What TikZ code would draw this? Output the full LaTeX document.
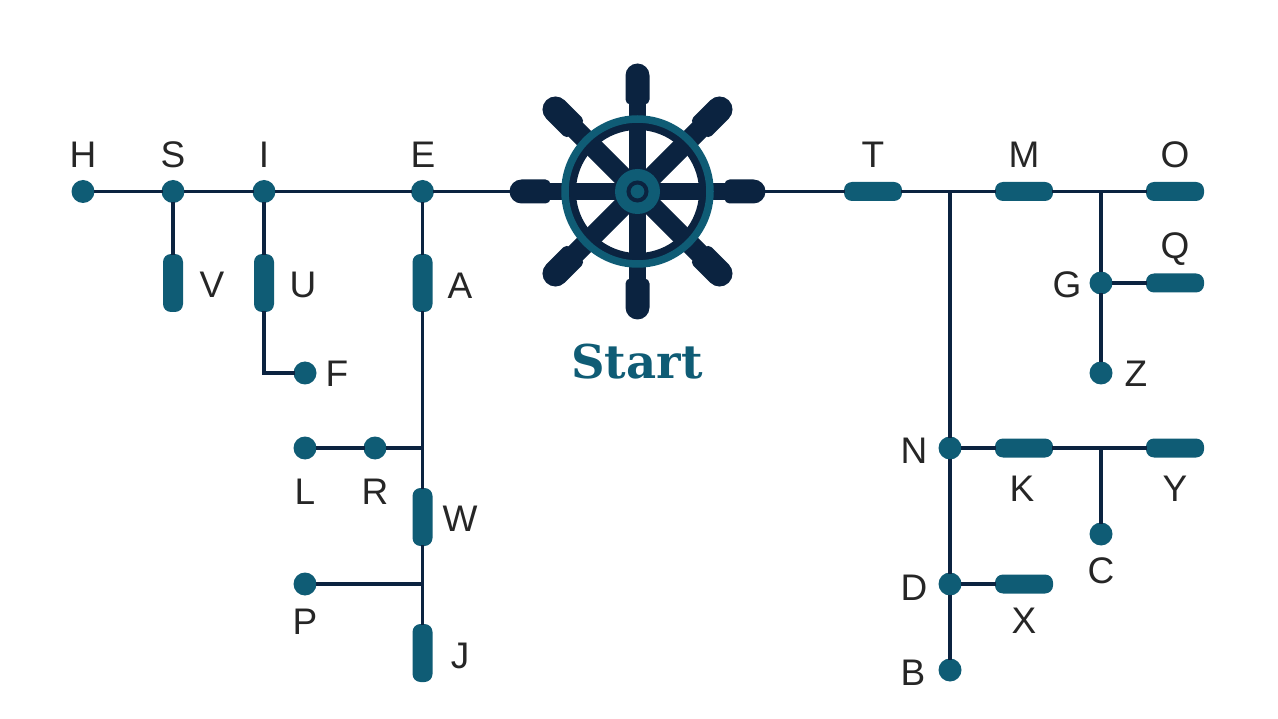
\documentclass[tikz,border=0pt]{standalone}
\usepackage{fontspec}
\setmainfont{Liberation Sans}
\newfontfamily\startfont[Scale=1]{DejaVu Serif}
\definecolor{navy}{HTML}{0B2340}
\definecolor{teal2}{HTML}{0F5C75}
\tikzset{
    dot/.style={circle, fill=teal2, inner sep=0pt, outer sep=-1pt, minimum size=23pt},
    pillv/.style={rectangle, rounded corners=8pt, fill=teal2, inner sep=0pt, outer sep=-1pt, minimum width=20pt, minimum height=58pt},
    pillh/.style={rectangle, rounded corners=8pt, fill=teal2, inner sep=0pt, outer sep=-1pt, minimum width=58pt, minimum height=19pt},
    letter/.style={inner sep=0pt, text height=27pt, text depth=0pt, text=black!85, font=\fontsize{37}{37}\selectfont},
    wire/.style={navy, line width=3.5pt}
}

\begin{document}
\begin{tikzpicture}[x=1pt, y=-1pt]
    \useasboundingbox (0, 0) rectangle (1278, 719);

    \node[circle, inner sep=0pt, outer sep=0pt, minimum size=252pt] (wheel) at (637.5, 191.5) {};
    \foreach \a/\sw/\kw in {0/17/12, 45/20/13, 90/17/12, 135/20/13, 180/17/12, 225/20/13, 270/17/12, 315/20/13} {
        \begin{scope}[shift={(wheel.center)}, rotate=\a]
            \draw[navy, line width=\sw pt] (0, 0) -- (90, 0);
            \fill[navy] (116, -\kw) arc[start angle=-90, end angle=90, radius=\kw] [rounded corners=5pt] -- (87, \kw) -- (87, -\kw) [sharp corners] -- cycle;
        \end{scope}
    }
    \draw[navy, line width=8pt] (wheel.center) circle[radius=65.5];
    \draw[teal2, line width=7.5pt] (wheel.center) circle[radius=72.5];
    \fill[teal2] (wheel.center) circle[radius=22.5];
    \draw[navy, line width=4pt] (wheel.center) circle[radius=9];
    \node[inner sep=0pt, text=teal2, font=\startfont\bfseries\fontsize{46.5}{46.5}\selectfont] (start) at (637, 362) {Start};

    \node[dot] (h) at (83, 191.5) {};
    \node[dot] (s) at (173, 191.5) {};
    \node[dot] (i) at (264, 191.5) {};
    \node[dot] (e) at (422.5, 191.5) {};
    \node[pillv] (v) at (173, 283) {};
    \node[pillv] (u) at (264, 283) {};
    \node[pillv] (a) at (422.5, 283) {};
    \node[dot] (f) at (305, 373) {};
    \node[dot] (l) at (305, 448) {};
    \node[dot] (r) at (375, 448) {};
    \node[pillv] (w) at (422.5, 517) {};
    \node[dot] (p) at (305, 584) {};
    \node[pillv] (j) at (422.5, 653) {};
    \coordinate (jr) at (422.5, 448);
    \coordinate (jp) at (422.5, 584);

    \node[pillh] (t) at (873, 191.5) {};
    \node[pillh] (m) at (1024, 191.5) {};
    \node[pillh] (o) at (1175, 191.5) {};
    \node[dot] (g) at (1101, 283) {};
    \node[pillh] (q) at (1175, 283) {};
    \node[dot] (z) at (1101, 373) {};
    \node[dot] (n) at (950, 448) {};
    \node[pillh] (k) at (1024, 448) {};
    \node[pillh] (y) at (1175, 448) {};
    \node[dot] (c) at (1101, 534) {};
    \node[dot] (d) at (950, 584) {};
    \node[pillh] (x) at (1024, 584) {};
    \node[dot] (b) at (950, 670) {};
    \coordinate (jt) at (950, 191.5);
    \coordinate (jm) at (1101, 191.5);
    \coordinate (jk) at (1101, 448);

    \draw[wire] (h) -- (s);
    \draw[wire] (s) -- (i);
    \draw[wire] (i) -- (e);
    \draw[wire] (e) -- (wheel);
    \draw[wire] (s) -- (v);
    \draw[wire] (i) -- (u);
    \draw[wire] (u) |- (f);
    \draw[wire] (e) -- (a);
    \draw[wire] (a) -- (w);
    \draw[wire] (w) -- (j);
    \draw[wire] (l) -- (r);
    \draw[wire] (r) -- (jr);
    \draw[wire] (p) -- (jp);

    \draw[wire] (wheel) -- (t);
    \draw[wire] (t) -- (m);
    \draw[wire] (m) -- (o);
    \draw[wire] (jt) -- (n);
    \draw[wire] (n) -- (d);
    \draw[wire] (d) -- (b);
    \draw[wire] (jm) -- (g);
    \draw[wire] (g) -- (z);
    \draw[wire] (g) -- (q);
    \draw[wire] (n) -- (k);
    \draw[wire] (k) -- (y);
    \draw[wire] (jk) -- (c);
    \draw[wire] (d) -- (x);

    \node[letter] (lh) at (83, 154) {H};
    \node[letter] (ls) at (173, 154) {S};
    \node[letter] (li) at (264, 154) {I};
    \node[letter] (le) at (423, 154) {E};
    \node[letter] (lv) at (212, 284) {V};
    \node[letter] (lu) at (303, 284) {U};
    \node[letter] (la) at (460, 285) {A};
    \node[letter] (lf) at (337, 373) {F};
    \node[letter] (ll) at (305, 491) {L};
    \node[letter] (lr) at (375, 491) {R};
    \node[letter] (lw) at (460, 518) {W};
    \node[letter] (lp) at (305, 621) {P};
    \node[letter] (lj) at (460, 655) {J};
    \node[letter] (lt) at (873, 154) {T};
    \node[letter] (lm) at (1024, 154) {M};
    \node[letter] (lo) at (1175, 154) {O};
    \node[letter] (lq) at (1175, 245) {Q};
    \node[letter] (lg) at (1067, 284) {G};
    \node[letter] (lz) at (1136, 373) {Z};
    \node[letter] (ln) at (914, 450) {N};
    \node[letter] (lk) at (1022, 488) {K};
    \node[letter] (ly) at (1175, 488) {Y};
    \node[letter] (lc) at (1101, 570) {C};
    \node[letter] (ld) at (914, 587) {D};
    \node[letter] (lx) at (1024, 620) {X};
    \node[letter] (lb) at (913, 672) {B};
\end{tikzpicture}
\end{document}
